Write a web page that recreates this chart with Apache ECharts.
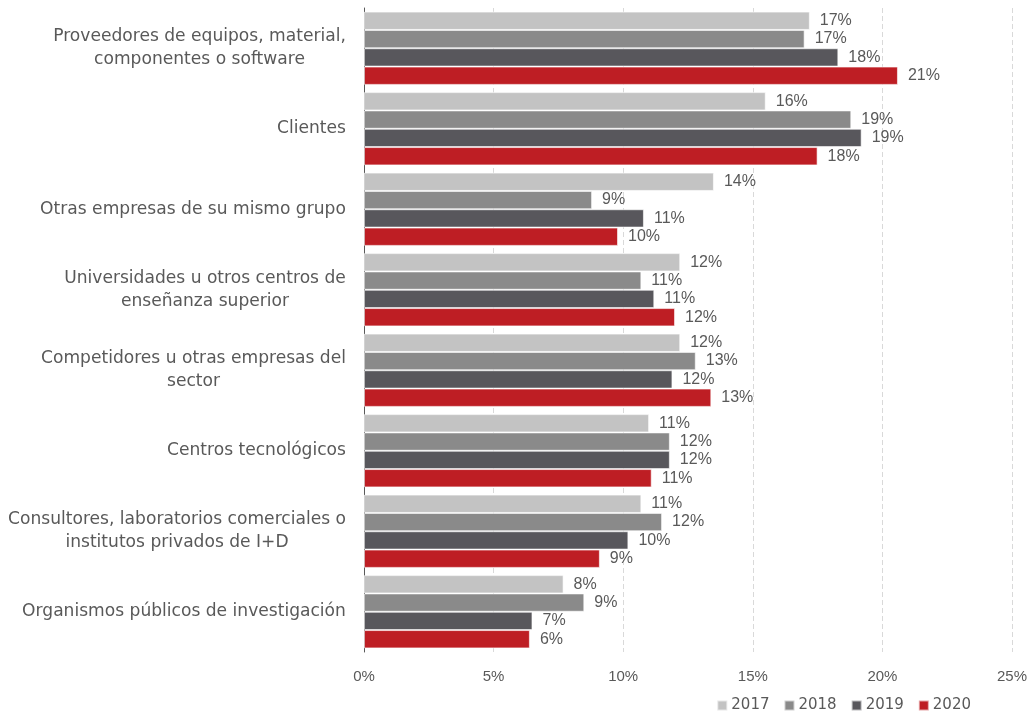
<!DOCTYPE html>
<html>
<head>
<meta charset="utf-8">
<script src="https://cdn.jsdelivr.net/npm/echarts@6/dist/echarts.min.js"></script>
<style>
  html, body { margin: 0; padding: 0; background: #fff; }
  #chart { width: 1031px; height: 718px; }
</style>
</head>
<body>
<div id="chart"></div>
<script>
// Categorías (de arriba abajo)
const categories = [
  'Proveedores de equipos, material,\ncomponentes o software',
  'Clientes',
  'Otras empresas de su mismo grupo',
  'Universidades u otros centros de\nenseñanza superior',
  'Competidores u otras empresas del\nsector',
  'Centros tecnológicos',
  'Consultores, laboratorios comerciales o\ninstitutos privados de I+D',
  'Organismos públicos de investigación'
];

const years = ['2017', '2018', '2019', '2020'];

// Porcentaje de empresas por año
const v2017 = [17.2, 15.5, 13.5, 12.2, 12.2, 11.0, 10.7, 7.7];
const v2018 = [17.0, 18.8, 8.8, 10.7, 12.8, 11.8, 11.5, 8.5];
const v2019 = [18.3, 19.2, 10.8, 11.2, 11.9, 11.8, 10.2, 6.5];
const v2020 = [20.6, 17.5, 9.8, 12.0, 13.4, 11.1, 9.1, 6.4];

const xTicks = [0, 5, 10, 15, 20, 25];

const colors = ['#C3C3C3', '#8A8A8A', '#58575C', '#BE1E24'];
const seriesValues = [v2017, v2018, v2019, v2020];
const textColor = '#595959';
const catFont = '"DejaVu Sans", sans-serif';
const numFont = '"Liberation Sans", Arial, sans-serif';
const catSize = 17.1;

// Ancho de cada etiqueta de categoría (línea más larga), para centrar
// las líneas entre sí manteniendo el bloque alineado a la derecha.
const measureCtx = document.createElement('canvas').getContext('2d');
measureCtx.font = catSize + 'px ' + catFont;
const catRich = {};
categories.forEach((c, i) => {
  const w = Math.max.apply(null, c.split('\n').map(l => measureCtx.measureText(l).width));
  catRich['c' + i] = {
    width: Math.ceil(w), align: 'center', fontSize: catSize, lineHeight: 23,
    color: textColor, fontFamily: catFont
  };
});

const chart = echarts.init(document.getElementById('chart'), null, { renderer: 'canvas' });

chart.setOption({
  animation: false,
  textStyle: { fontFamily: numFont },
  grid: { left: 364, right: 19, top: 8, bottom: 66, outerBoundsMode: 'none', containLabel: false },
  legend: {
    data: years,
    right: 60,
    top: 698,
    padding: 0,
    itemWidth: 10,
    itemHeight: 10,
    itemGap: 14,
    icon: 'rect',
    textStyle: { color: textColor, fontSize: 15, fontFamily: catFont, padding: [0, 0, 0, -1] }
  },
  xAxis: {
    type: 'value',
    min: xTicks[0],
    max: xTicks[xTicks.length - 1],
    interval: 5,
    axisLine: { show: false },
    axisTick: { show: false },
    axisLabel: {
      color: textColor,
      fontSize: 15,
      fontFamily: numFont,
      margin: 17,
      formatter: v => v + '%'
    },
    splitLine: { show: true, lineStyle: { color: '#D9D9D9', type: [5, 3], width: 1 } }
  },
  yAxis: {
    type: 'category',
    data: categories,
    inverse: true,
    axisLine: { show: true, lineStyle: { color: '#595959', width: 1 } },
    axisTick: { show: false },
    axisLabel: {
      color: textColor,
      margin: 18,
      formatter: (v, i) => v.split('\n').map(l => '{c' + i + '|' + l + '}').join('\n'),
      rich: catRich
    }
  },
  series: years.map((y, i) => ({
    name: y,
    type: 'bar',
    data: seriesValues[i],
    barGap: '0%',
    barCategoryGap: '9%',
    itemStyle: { color: colors[i], borderColor: 'rgba(255,255,255,0.6)', borderWidth: 1 },
    label: {
      show: true,
      position: 'right',
      distance: 10,
      color: textColor,
      fontSize: 16,
      fontFamily: numFont,
      formatter: p => Math.round(p.value) + '%'
    }
  }))
});
</script>
</body>
</html>
